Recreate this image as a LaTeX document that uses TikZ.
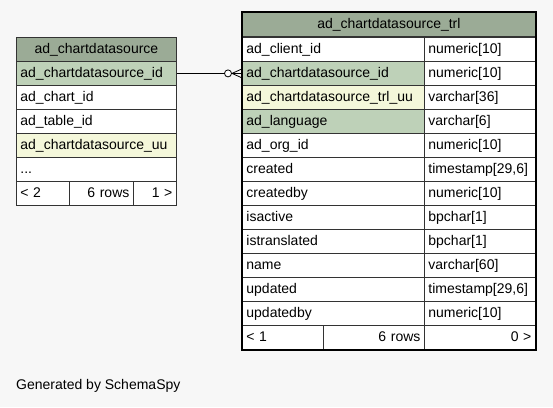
\documentclass[tikz,border=0pt]{standalone}
\usepackage{fontspec}
\setmainfont{Liberation Sans}
\usetikzlibrary{calc}
\definecolor{hdr}{HTML}{9BAB96}
\definecolor{pk}{HTML}{BED1B8}
\definecolor{uq}{HTML}{F4F7DA}
\definecolor{bg}{HTML}{F7F7F7}
\definecolor{ln}{HTML}{333333}
\begin{document}
\begin{tikzpicture}[x=1pt,y=-1pt,
  cell/.style={draw=ln, line width=0.8pt, fill=white, rectangle, anchor=north west, inner xsep=4pt, inner ysep=0pt,
    minimum height=24pt, align=left, text height=10.5pt, text depth=3pt,
    font=\fontsize{14}{16}\selectfont},
  lw/.style={text width=152pt},
  c1/.style={text width=174pt},
  c2/.style={text width=103pt},
  hd/.style={fill=hdr, align=center},
  kp/.style={fill=pk},
  ku/.style={fill=uq},
  ftr/.style={cell, align=right}
]
\fill[bg] (0,0) rectangle (553,407);
\useasboundingbox (0,0) rectangle (553,407);

% left table
\node[cell,lw,hd] (lh) at (16,37) {ad\_chartdatasource};
\node[cell,lw,kp] (l1) at (16,61) {ad\_chartdatasource\_id};
\node[cell,lw] (l2) at (16,85) {ad\_chart\_id};
\node[cell,lw] (l3) at (16,109) {ad\_table\_id};
\node[cell,lw,ku] (l4) at (16,133) {ad\_chartdatasource\_uu};
\node[cell,lw] (l5) at (16,157) {...};
\node[cell,text width=45pt] (lf1) at (16,181) {< 2};
\node[ftr,text width=56pt] (lf2) at (69,181) {6 rows};
\node[ftr,text width=35pt] (lf3) at (133,181) {1 >};

% right table
\node[cell,hd,text width=285pt] (rh) at (242,12) {ad\_chartdatasource\_trl};
\node[cell,c1] (r1) at (242,37) {ad\_client\_id};
\node[cell,c2] (t1) at (424,37) {numeric[10]};
\node[cell,c1,kp] (r2) at (242,61) {ad\_chartdatasource\_id};
\node[cell,c2] (t2) at (424,61) {numeric[10]};
\node[cell,c1,ku] (r3) at (242,85) {ad\_chartdatasource\_trl\_uu};
\node[cell,c2] (t3) at (424,85) {varchar[36]};
\node[cell,c1,kp] (r4) at (242,109) {ad\_language};
\node[cell,c2] (t4) at (424,109) {varchar[6]};
\node[cell,c1] (r5) at (242,133) {ad\_org\_id};
\node[cell,c2] (t5) at (424,133) {numeric[10]};
\node[cell,c1] (r6) at (242,157) {created};
\node[cell,c2] (t6) at (424,157) {timestamp[29,6]};
\node[cell,c1] (r7) at (242,181) {createdby};
\node[cell,c2] (t7) at (424,181) {numeric[10]};
\node[cell,c1] (r8) at (242,205) {isactive};
\node[cell,c2] (t8) at (424,205) {bpchar[1]};
\node[cell,c1] (r9) at (242,229) {istranslated};
\node[cell,c2] (t9) at (424,229) {bpchar[1]};
\node[cell,c1] (r10) at (242,253) {name};
\node[cell,c2] (t10) at (424,253) {varchar[60]};
\node[cell,c1] (r11) at (242,277) {updated};
\node[cell,c2] (t11) at (424,277) {timestamp[29,6]};
\node[cell,c1] (r12) at (242,301) {updatedby};
\node[cell,c2] (t12) at (424,301) {numeric[10]};
\node[cell,text width=73pt] (rf1) at (242,325) {< 1};
\node[ftr,text width=93pt] (rf2) at (323,325) {6 rows};
\node[ftr,c2] (rf3) at (424,325) {0 >};
\draw[line width=2.6pt, black] (rh.north west) rectangle (rf3.south east);

% connector
\coordinate (cf) at ($(r2.west)+(-10,0)$);
\draw[line width=0.8pt] (l1.east) -- ($(cf)+(-7.5,0)$);
\draw[line width=0.8pt, fill=white] ($(cf)+(-4,0)$) circle (3.5);
\draw[line width=0.8pt] (cf) -- ($(r2.west)+(0,-4.5)$) (cf) -- ($(r2.west)+(0,4.5)$) (cf) -- (r2.west);

\node[anchor=west, inner sep=0pt, font=\fontsize{14}{16}\selectfont] (gen) at (16,386) {Generated by SchemaSpy};
\end{tikzpicture}
\end{document}
